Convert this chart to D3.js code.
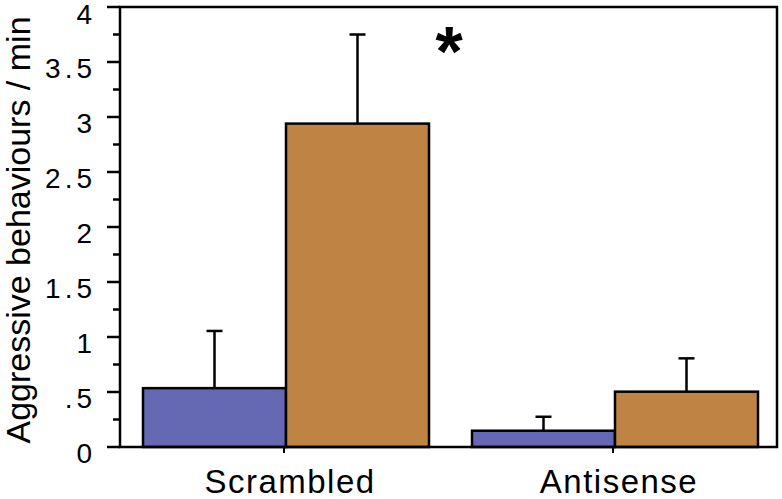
<!DOCTYPE html>
<html><head><meta charset="utf-8">
<script src="https://cdn.jsdelivr.net/npm/d3@7"></script>
<style>body{margin:0;background:#fff}text{font-family:"Liberation Sans",Arial,sans-serif}</style>
</head><body><svg id="c" width="782" height="499"></svg>
<script>
const categories = ["Scrambled", "Antisense"];
const series = ["blue", "orange"];
const means = [[0.535, 2.94], [0.148, 0.503]];
const errors = [[0.52, 0.81], [0.127, 0.303]];
const tickValues = [0, 0.5, 1, 1.5, 2, 2.5, 3, 3.5, 4];
const tickLabels = ["0", ".5", "1", "1.5", "2", "2.5", "3", "3.5", "4"];
const colors = ["#6569b3", "#bf8444"];

(function () {
const svg = d3.select("#c");
const pLeft = 120, pRight = 777, pTop = 7, pBottom = 447;
const y = d3.scaleLinear().domain([0, 4]).range([pBottom, pTop]);
const catCenters = d3.scaleOrdinal().domain(categories).range([286, 615]);
const xs = d3.scaleBand().domain(series).range([-143, 143]);

const g = svg.append("g");
categories.forEach((c, i) => {
  series.forEach((s, j) => {
    const x0 = catCenters(c) + xs(s);
    g.append("rect").attr("x", x0).attr("y", y(means[i][j]))
      .attr("width", xs.bandwidth()).attr("height", y(0) - y(means[i][j]))
      .attr("fill", colors[j]).attr("stroke", "#000").attr("stroke-width", 2.5);
    const cx = x0 + xs.bandwidth() / 2;
    const yt = y(means[i][j] + errors[i][j]);
    g.append("line").attr("x1", cx).attr("x2", cx).attr("y1", y(means[i][j])).attr("y2", yt)
      .attr("stroke", "#000").attr("stroke-width", 2.5);
    g.append("line").attr("x1", cx - 8).attr("x2", cx + 8).attr("y1", yt).attr("y2", yt)
      .attr("stroke", "#000").attr("stroke-width", 2.5);
  });
});

svg.append("rect").attr("x", pLeft).attr("y", pTop).attr("width", pRight - pLeft).attr("height", pBottom - pTop)
  .attr("fill", "none").attr("stroke", "#000").attr("stroke-width", 2.5);

const minor = d3.range(0, 4.001, 0.25);
minor.forEach(v => {
  const major = Math.abs(v * 2 - Math.round(v * 2)) < 1e-6;
  svg.append("line").attr("x1", pLeft - (major ? 13 : 7)).attr("x2", pLeft).attr("y1", y(v)).attr("y2", y(v))
    .attr("stroke", "#000").attr("stroke-width", 2.5);
});
tickValues.forEach((v, i) => {
  svg.append("text").attr("x", 96).attr("y", Math.max(y(v) + 16, 24)).attr("text-anchor", "end")
    .attr("font-size", 28).attr("letter-spacing", 4).text(tickLabels[i]);
});

categories.forEach(c => {
  svg.append("line").attr("x1", catCenters(c) - 2).attr("x2", catCenters(c) - 2).attr("y1", pBottom).attr("y2", pBottom + 6)
    .attr("stroke", "#000").attr("stroke-width", 2);
  svg.append("text").attr("x", catCenters(c) + 4).attr("y", 493).attr("text-anchor", "middle")
    .attr("font-size", 33).attr("letter-spacing", 1.5).text(c);
});

svg.append("text").attr("transform", "translate(30,230) rotate(-90)").attr("text-anchor", "middle")
  .attr("font-size", 34).text("Aggressive behaviours / min");

svg.append("text").attr("x", 449).attr("y", 76).attr("text-anchor", "middle")
  .attr("font-size", 70).attr("font-weight", "bold").text("*");
})();
</script></body></html>
